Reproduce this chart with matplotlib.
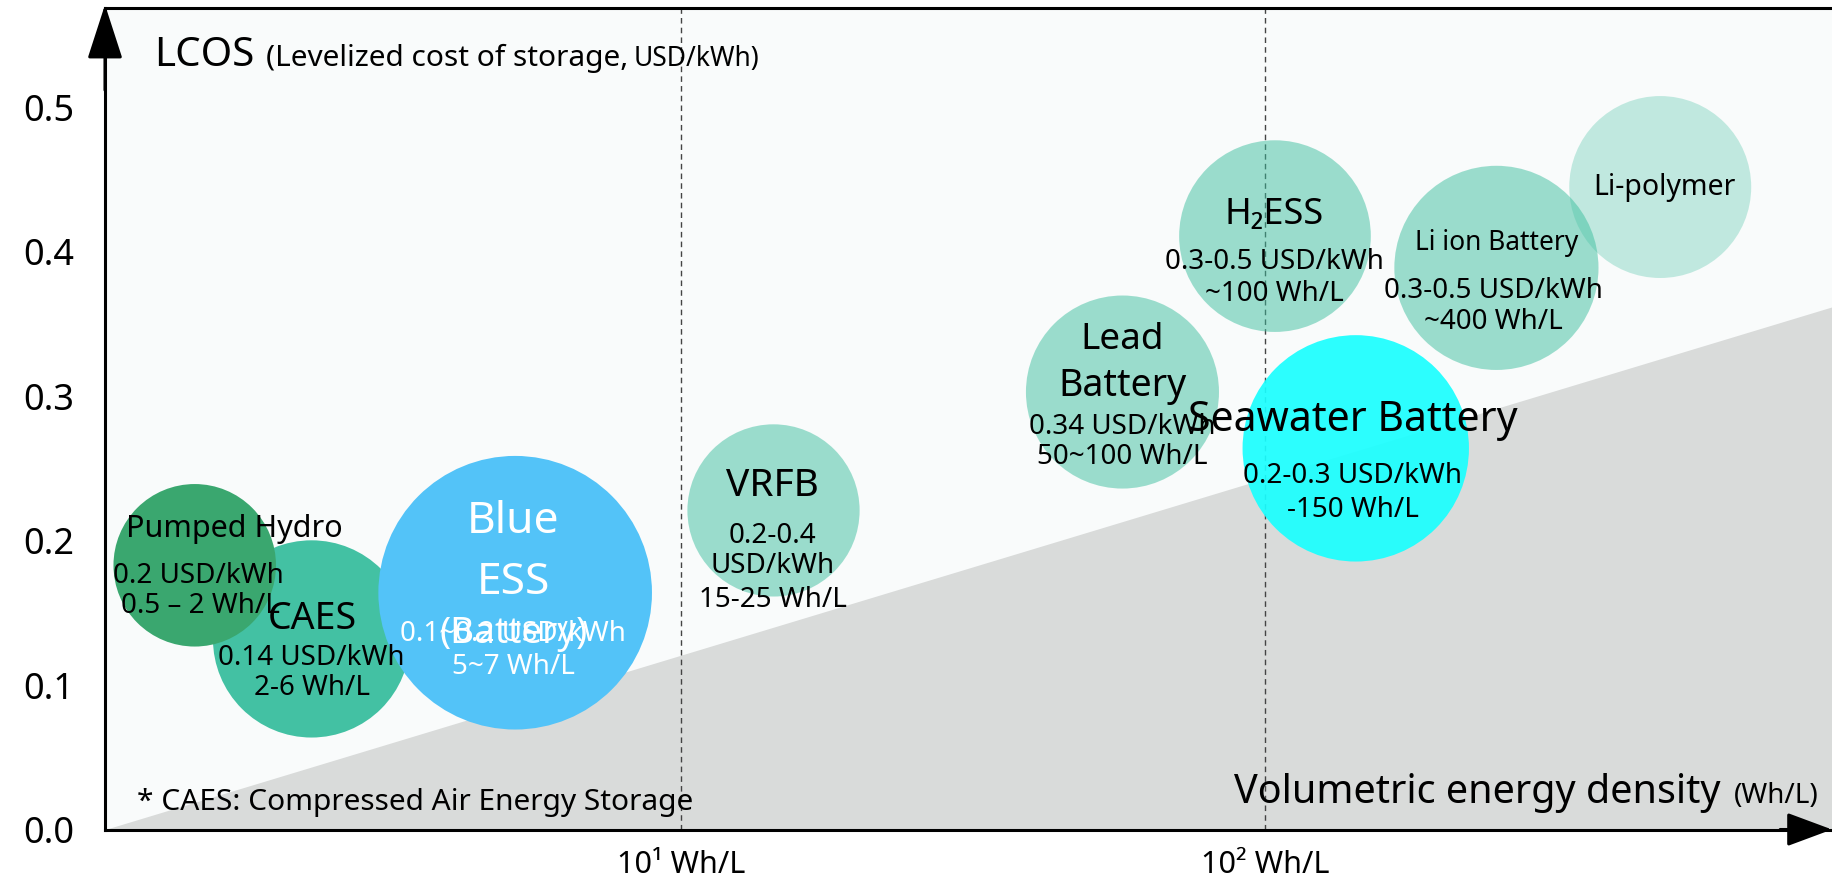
import numpy as np
import matplotlib
matplotlib.use('Agg')
import matplotlib.pyplot as plt
from matplotlib.ticker import NullLocator

plt.rcParams['font.family'] = ['Noto Sans', 'DejaVu Sans']

# storage technologies
names = ['CAES', 'Pumped Hydro', 'Blue ESS', 'VRFB', 'Lead Battery',
         'H2ESS', 'Li ion Battery', 'Li-polymer', 'Seawater Battery']
density = [2.33, 1.47, 5.2, 14.4, 57, 104, 249, 475, 143]        # Wh/L
lcos = [0.132, 0.183, 0.164, 0.221, 0.303, 0.411, 0.389, 0.445, 0.264]  # USD/kWh
bubble_size = [142, 117, 197, 124, 139, 138, 147, 131, 163]       # diameter, pt

titles = [['CAES'], ['Pumped Hydro'], ['Blue', 'ESS', '(Battery)'], ['VRFB'],
          ['Lead', 'Battery'], ['H\u2082ESS'], ['Li ion Battery'], ['Li-polymer'],
          ['Seawater Battery']]
notes = [['0.14 USD/kWh', '2-6 Wh/L'],
         ['0.2 USD/kWh', '0.5 \u2013 2 Wh/L'],
         ['0.1~0.2 USD/kWh', '5~7 Wh/L'],
         ['0.2-0.4', 'USD/kWh', '15-25 Wh/L'],
         ['0.34 USD/kWh', '50~100 Wh/L'],
         ['0.3-0.5 USD/kWh', '~100 Wh/L'],
         ['0.3-0.5 USD/kWh', '~400 Wh/L'],
         [],
         ['0.2-0.3 USD/kWh', '-150 Wh/L']]

yticks = [0.0, 0.1, 0.2, 0.3, 0.4, 0.5]
ytick_labels = ['0.0', '0.1', '0.2', '0.3', '0.4', '0.5']
xticks = [10, 100]
xtick_labels = ['10\u00b9 Wh/L', '10\u00b2 Wh/L']
shade_top = 0.362   # LCOS of the grey wedge at the right edge

# styles / layout
colors = ['#43c1a3', '#3aa76f', '#53c3f8', '#3dbf9f', '#3dbf9f',
          '#3dbf9f', '#3dbf9f', '#3dbf9f', '#1affff']
alphas = [1, 1, 1, 0.5, 0.5, 0.5, 0.5, 0.3, 0.92]
text_colors = ['black', 'black', 'white', 'black', 'black',
               'black', 'black', 'black', 'black']
# (dx, dy, fontsize) in pixels from bubble centre
title_layout = [[(1, 20, 27)], [(40, 36, 22)],
                [(-2, 71, 32), (-2, 10, 32), (-2, -41, 26.5)],
                [(-1, 24, 28)], [(0, 52, 26.5), (0, 6, 27)], [(-1, 21, 26)],
                [(0, 25, 19)], [(4, 0, 20.5)], [(-3, 28, 29.5)]]
note_layout = [[(0, -19), (0, -49)], [(4, -11), (6, -41)],
               [(-2, -41), (-2, -74)], [(-1, -26), (-1, -56), (-1, -90)],
               [(0, -35), (0, -65)], [(-1, -26), (-1, -58)],
               [(-3, -23), (-3, -54)], [], [(-3, -28), (-3, -62)]]
note_fs = 20

fig = plt.figure(figsize=(18.32, 8.85), dpi=100)
ax = fig.add_axes([105/1832, 55.5/885, 1727/1832, 821.5/885])
ax.set_facecolor('#f9fbfb')
ax.set_xscale('log')
ax.set_xlim(1.032, 935)
ax.set_ylim(0, 0.569)

# grey wedge
ax.fill_between([1.032, 935], [0, 0], [0, shade_top], color='#d9dbda', lw=0, zorder=0.5)

for xv in xticks:
    ax.axvline(xv, color='#444444', lw=1.0, ls=(0, (4, 3)), zorder=1)

for i in range(len(names)):
    ax.scatter([density[i]], [lcos[i]], s=bubble_size[i]**2, color=colors[i],
               alpha=alphas[i], edgecolors='none', zorder=2 + i * 0.01 + (0.5 if i == 1 else 0))
    for txt, (dx, dy, fs) in zip(titles[i], title_layout[i]):
        ax.annotate(txt, (density[i], lcos[i]), xytext=(dx, dy), textcoords='offset pixels',
                    ha='center', va='center', fontsize=fs, color=text_colors[i], zorder=5)
    for txt, (dx, dy) in zip(notes[i], note_layout[i]):
        ax.annotate(txt, (density[i], lcos[i]), xytext=(dx, dy), textcoords='offset pixels',
                    ha='center', va='center', fontsize=note_fs, color=text_colors[i], zorder=5)

ax.set_yticks(yticks)
ax.set_yticklabels(ytick_labels, fontsize=26)
ax.set_xticks(xticks)
ax.set_xticklabels(xtick_labels, fontsize=22)
ax.xaxis.set_minor_locator(NullLocator())
ax.tick_params(axis='y', length=0, pad=22)
ax.tick_params(axis='x', length=0, pad=15)

ax.spines['right'].set_visible(False)
for sp in ['left', 'bottom', 'top']:
    ax.spines[sp].set_linewidth(2.2)
    ax.spines[sp].set_color('black')

# axis arrows
ax.annotate('', xy=(0, 1.004), xytext=(0, 0.9), xycoords='axes fraction',
            arrowprops=dict(arrowstyle='-|>,head_length=1.7,head_width=0.55', mutation_scale=20,
                            color='black', lw=2.2, shrinkA=0, shrinkB=0), annotation_clip=False)
ax.annotate('', xy=(1.0, 0), xytext=(0.97, 0), xycoords='axes fraction',
            arrowprops=dict(arrowstyle='-|>,head_length=1.4,head_width=0.52', mutation_scale=20,
                            color='black', lw=2.2, shrinkA=0, shrinkB=0), annotation_clip=False)

# axis titles and note
H = 885.0
W = 1832.0
fig.text(154/W, 1 - 66/H, 'LCOS', fontsize=29, va='baseline')
fig.text(266/W, 1 - 66/H, '(Levelized cost of storage,', fontsize=21.5, va='baseline')
fig.text(634/W, 1 - 66/H, 'USD/kWh)', fontsize=19, va='baseline')
fig.text(1721/W, 1 - 803/H, 'Volumetric energy density', fontsize=28.5, ha='right', va='baseline')
fig.text(1819/W, 1 - 803/H, '(Wh/L)', fontsize=20, ha='right', va='baseline')
fig.text(137/W, 1 - 810/H, '* CAES: Compressed Air Energy Storage', fontsize=21.5, va='baseline')

fig.savefig('out.png', dpi=100)
